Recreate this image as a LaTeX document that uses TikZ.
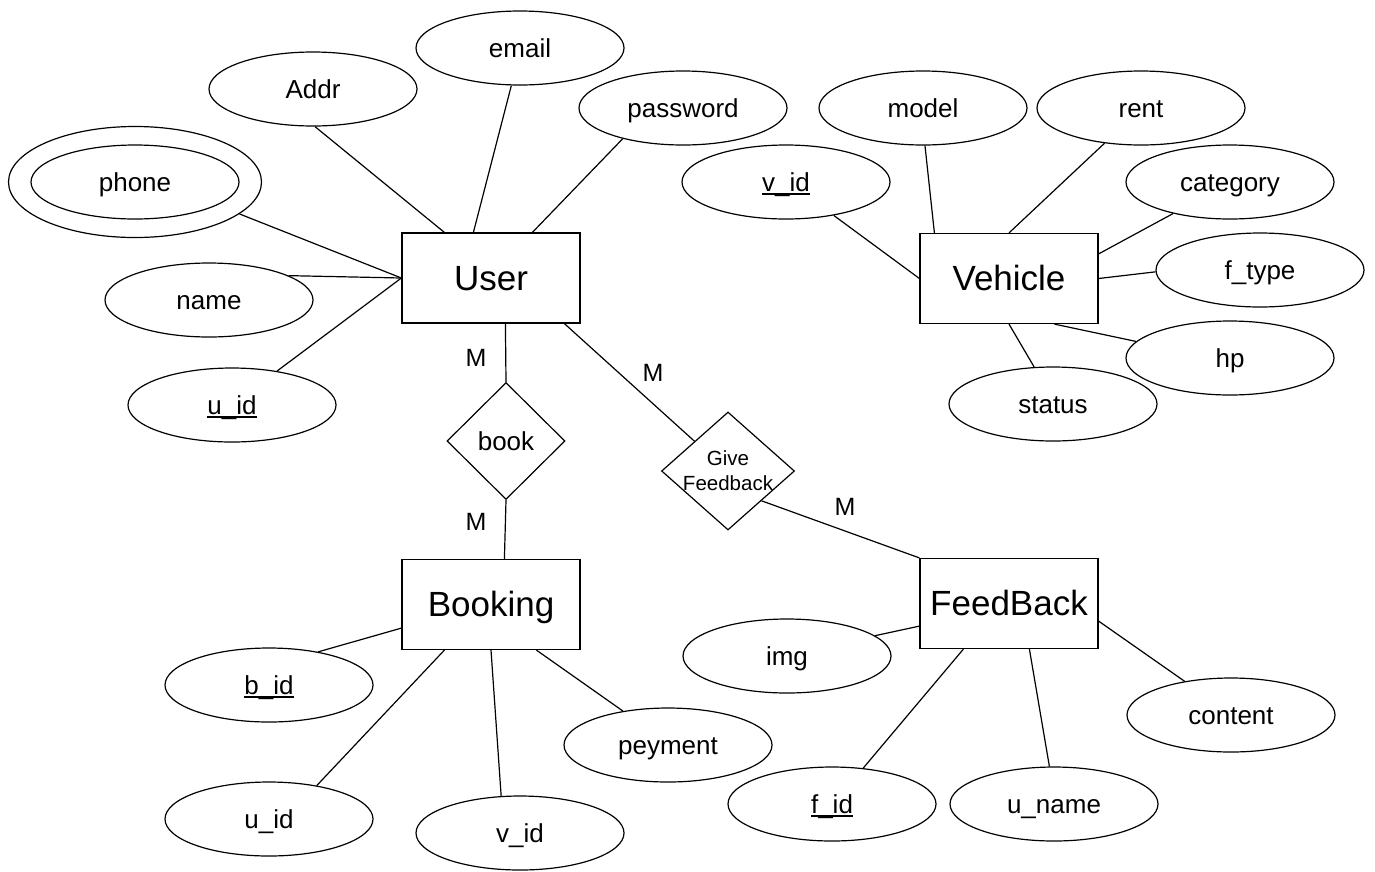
\documentclass[tikz,border=0pt]{standalone}
\usepackage{fontspec}
\setmainfont{Liberation Sans}
\usetikzlibrary{shapes.geometric,calc}
\newcommand\undl[1]{\setbox0\hbox{#1}\rlap{\rule[-3.5pt]{\wd0}{1.3pt}}\box0}
\begin{document}
\begin{tikzpicture}[x=1pt,y=-1pt,
  attr/.style={ellipse,draw,line width=1.2pt,minimum width=208pt,minimum height=74pt,inner sep=0pt,font=\fontsize{26}{30}\selectfont,text height=23.5pt,text depth=5.5pt},
  ent/.style={rectangle,draw,line width=1.2pt,minimum width=178pt,minimum height=90pt,inner sep=0pt,font=\fontsize{35}{40}\selectfont,text height=31.7pt,text depth=7.4pt},
  rel/.style={diamond,draw,line width=1.2pt,inner sep=0pt},
  card/.style={font=\fontsize{25}{30}\selectfont,inner sep=0pt,text height=22.6pt,text depth=5.3pt},
  conn/.style={line width=1.2pt}]
\useasboundingbox (0,0) rectangle (1375,871);

% entities
\node[ent] (user) at (491,278) {User};
\node[ent] (vehicle) at (1009,278.5) {Vehicle};
\node[ent] (booking) at (491,604.5) {Booking};
\node[ent] (feedback) at (1009,603.5) {FeedBack};

% relationships
\node[rel,minimum width=118pt,minimum height=117pt,font=\fontsize{26}{30}\selectfont,text height=23.5pt,text depth=5.5pt] (book) at (506,441) {book};
\node[rel,minimum width=133pt,minimum height=118pt,
  label={[font=\fontsize{20.5}{25}\selectfont,align=center,inner sep=0pt]center:Give\\Feedback}] (gf) at (728,471) {};

% user attributes
\node[attr] (email) at (520,48) {email};
\node[attr] (addr) at (313,89) {Addr};
\node[attr] (password) at (683,108) {password};
\node[attr] (phone) at (135,182) {phone};
\node[ellipse,draw,line width=1.2pt,minimum width=253pt,minimum height=111pt,inner sep=0pt] (phoneouter) at (135,182) {};
\node[attr] (name) at (209,300) {name};
\node[attr] (uid) at (232,405) {\undl{u\_id}};

% vehicle attributes
\node[attr] (vid) at (786,182) {\undl{v\_id}};
\node[attr] (model) at (923,108) {model};
\node[attr] (rent) at (1141,108) {rent};
\node[attr] (category) at (1230,182) {category};
\node[attr] (ftype) at (1260,270) {f\_type};
\node[attr] (hp) at (1230,358) {hp};
\node[attr] (status) at (1053,404) {status};

% booking attributes
\node[attr] (bid) at (269,685) {\undl{b\_id}};
\node[attr] (buid) at (269,819) {u\_id};
\node[attr] (bvid) at (520,833) {v\_id};
\node[attr] (peyment) at (668,745) {peyment};

% feedback attributes
\node[attr] (img) at (787,656) {img};
\node[attr] (content) at (1231,715) {content};
\node[attr] (fid) at (832,804) {\undl{f\_id}};
\node[attr] (uname) at (1054,804) {u\_name};

% user connectors
\draw[conn] (addr.273) -- ([xshift=43pt]user.north west);
\draw[conn] (email.257) -- ([xshift=72pt]user.north west);
\draw[conn] (password.207) -- ([xshift=131pt]user.north west);
\draw[conn] (phoneouter.343.5) -- (user.west);
\draw[conn] (name.17.8) -- (user.west);
\draw[conn] (uid.37.3) -- (user.west);

% vehicle connectors
\draw[conn] (vid.325) -- (vehicle.west);
\draw[conn] (model.273) -- ([xshift=15pt]vehicle.north west);
\draw[conn] (rent.224) -- (vehicle.north);
\draw[conn] (category.209.7) -- ([yshift=-21pt]vehicle.north east);
\draw[conn] (ftype.181.7) -- (vehicle.east);
\draw[conn] (hp.170) -- ([xshift=135pt]vehicle.south west);
\draw[conn] (status.117.8) -- (vehicle.south);

% booking connectors
\draw[conn] (bid.34) -- ([yshift=22pt]booking.south west);
\draw[conn] (buid.35.9) -- ([xshift=43pt]booking.south west);
\draw[conn] (bvid.117.8) -- (booking.south);
\draw[conn] (peyment.143.5) -- ([xshift=135pt]booking.south west);

% feedback connectors
\draw[conn] (img.13) -- ([yshift=23pt]feedback.south west);
\draw[conn] (fid.49) -- ([xshift=44pt]feedback.south west);
\draw[conn] (uname.97.7) -- ([xshift=110pt]feedback.south west);
\draw[conn] (content.144) -- ([yshift=28pt]feedback.south east);

% relationship connectors
\draw[conn] ([xshift=104pt]user.south west) -- (book.north);
\draw[conn] (book.south) -- ([xshift=103pt]booking.north west);
\draw[conn] ([xshift=163pt]user.south west) -- ($(gf.west)!0.5!(gf.north)$);
\draw[conn] ($(gf.east)!0.5!(gf.south)$) -- (feedback.north west);

% cardinalities
\node[card] (m1) at (476,358) {M};
\node[card] (m2) at (653,373) {M};
\node[card] (m3) at (476,522) {M};
\node[card] (m4) at (845,507) {M};
\end{tikzpicture}
\end{document}
